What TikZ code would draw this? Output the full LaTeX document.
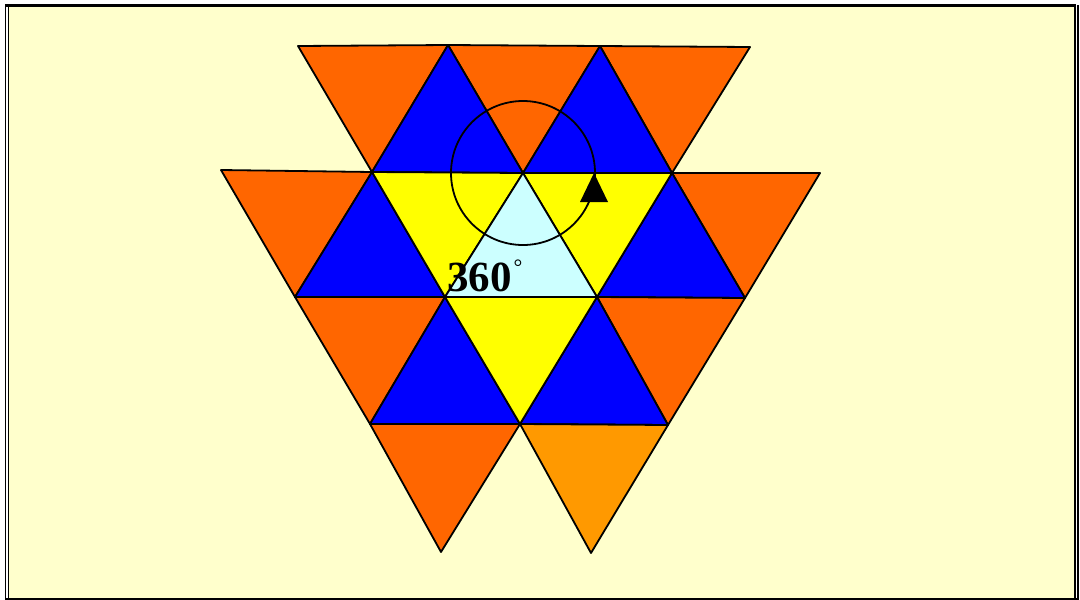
\documentclass[tikz,border=0pt]{standalone}
\usepackage{fontspec}
\setmainfont{Liberation Serif}
\definecolor{bgyel}{HTML}{FFFFCC}
\definecolor{tor}{HTML}{FF6600}
\definecolor{tor2}{HTML}{FF9900}
\definecolor{tbl}{HTML}{0000FF}
\definecolor{tye}{HTML}{FFFF00}
\definecolor{tcy}{HTML}{CCFFFF}
\tikzset{
  tri/.style={draw=black, line width=1.8pt, line join=round},
  orangetri/.style={tri, fill=tor},
  orange2tri/.style={tri, fill=tor2},
  bluetri/.style={tri, fill=tbl},
  yellowtri/.style={tri, fill=tye},
  cyantri/.style={tri, fill=tcy},
  turn/.style={draw=black, line width=1.8pt},
  label/.style={font=\fontsize{43}{48}\selectfont\bfseries, inner sep=0pt, anchor=base west}
}
\begin{document}
\begin{tikzpicture}[x=1pt,y=-1pt]
\useasboundingbox (0,0) rectangle (1080,600);
% frame
\fill[white] (0,0) rectangle (1080,600);
\fill[bgyel] (8.5,5.5) rectangle (1075,599);
\draw[line width=1.5pt] (5.5,4) -- (5.5,601);
\draw[line width=2pt] (1078,5) -- (1078,601);
\draw[line width=1.5pt] (8.5,601) -- (8.5,5.5) -- (1075,5.5) -- (1075,601);
\draw[line width=3pt] (5,5.5) -- (1076,5.5);
\draw[line width=2.5pt] (5,599) -- (1079,599);
% lattice
\coordinate (a0) at (298,46);  \coordinate (a1) at (448,45);
\coordinate (a2) at (600,46);  \coordinate (a3) at (750,47);
\coordinate (b0) at (221,170); \coordinate (b1) at (372,172);
\coordinate (b2) at (523,173); \coordinate (b3) at (672,173);
\coordinate (b4) at (820,173);
\coordinate (c0) at (295,297); \coordinate (c1) at (445,297);
\coordinate (c2) at (597,297); \coordinate (c3) at (745,298);
\coordinate (d0) at (370,424); \coordinate (d1) at (520,424);
\coordinate (d2) at (668,425);
\coordinate (e0) at (441,552); \coordinate (e1) at (591,553);
% row 1
\path[orangetri] (a0) -- (a1) -- (b1) -- cycle;
\path[orangetri] (a1) -- (a2) -- (b2) -- cycle;
\path[orangetri] (a2) -- (a3) -- (b3) -- cycle;
\path[bluetri] (b1) -- (b2) -- (a1) -- cycle;
\path[bluetri] (b2) -- (b3) -- (a2) -- cycle;
% row 2
\path[orangetri] (b0) -- (b1) -- (c0) -- cycle;
\path[orangetri] (b3) -- (b4) -- (c3) -- cycle;
\path[bluetri] (c0) -- (c1) -- (b1) -- cycle;
\path[bluetri] (c2) -- (c3) -- (b3) -- cycle;
\path[yellowtri] (b1) -- (b2) -- (c1) -- cycle;
\path[yellowtri] (b2) -- (b3) -- (c2) -- cycle;
\path[cyantri] (c1) -- (c2) -- (b2) -- cycle;
% row 3
\path[orangetri] (c0) -- (c1) -- (d0) -- cycle;
\path[orangetri] (c2) -- (c3) -- (d2) -- cycle;
\path[bluetri] (d0) -- (d1) -- (c1) -- cycle;
\path[bluetri] (d1) -- (d2) -- (c2) -- cycle;
\path[yellowtri] (c1) -- (c2) -- (d1) -- cycle;
% row 4
\path[orangetri] (d0) -- (d1) -- (e0) -- cycle;
\path[orange2tri] (d1) -- (d2) -- (e1) -- cycle;
% turning circle and arrow
\draw[turn] (b2) circle[radius=72];
\coordinate (tip) at (594,173);
\fill[black] (tip) -- (608,202) -- (580,202) -- cycle;
% label
\node[label] (ang) at (447,291) {360\hspace{2pt}\raisebox{17pt}{\fontsize{22}{22}\selectfont\mdseries °}};
\end{tikzpicture}
\end{document}
